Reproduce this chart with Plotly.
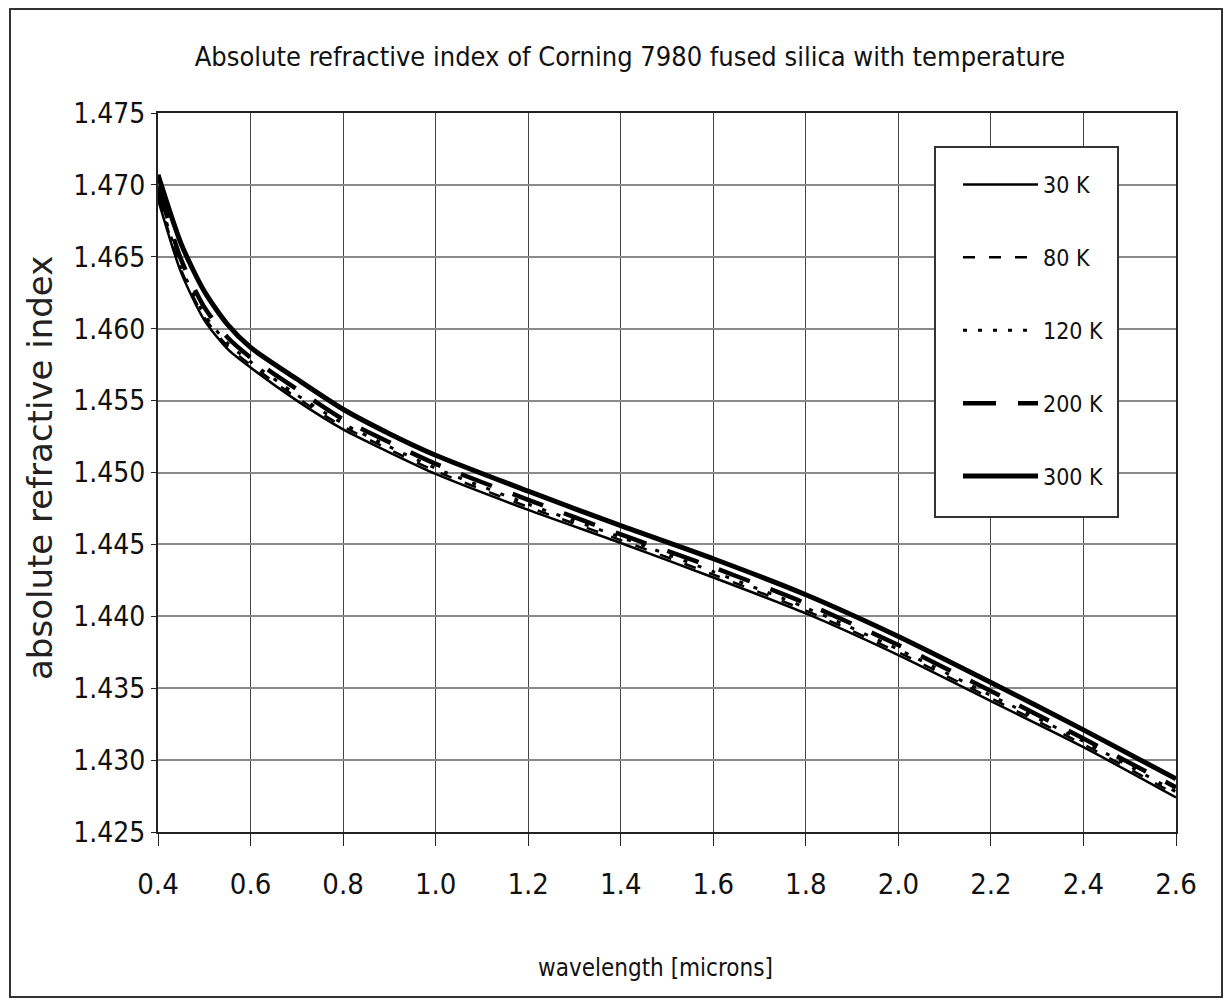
import plotly.graph_objects as go

wavelength = [0.4, 0.45, 0.5, 0.55, 0.6, 0.7, 0.8, 0.9, 1.0, 1.2, 1.4, 1.6, 1.8, 2.0, 2.2, 2.4, 2.6]
n_30K  = [1.4690, 1.4639, 1.4606, 1.4586, 1.4573, 1.4550, 1.4530, 1.4514, 1.4499, 1.4474, 1.4451, 1.4427, 1.4402, 1.4373, 1.4341, 1.4309, 1.4274]
n_80K  = [1.4692, 1.4641, 1.4608, 1.4588, 1.4575, 1.4552, 1.4532, 1.4516, 1.4501, 1.4476, 1.4453, 1.4429, 1.4404, 1.4375, 1.4343, 1.4311, 1.4276]
n_120K = [1.4694, 1.4643, 1.4610, 1.4590, 1.4577, 1.4554, 1.4534, 1.4518, 1.4503, 1.4478, 1.4455, 1.4431, 1.4406, 1.4377, 1.4345, 1.4313, 1.4278]
n_200K = [1.4699, 1.4648, 1.4615, 1.4594, 1.4580, 1.4558, 1.4537, 1.4521, 1.4506, 1.4481, 1.4457, 1.4434, 1.4409, 1.4380, 1.4348, 1.4315, 1.4281]
n_300K = [1.4707, 1.4659, 1.4626, 1.4603, 1.4587, 1.4565, 1.4544, 1.4527, 1.4512, 1.4487, 1.4463, 1.4440, 1.4415, 1.4386, 1.4354, 1.4321, 1.4287]

series_names = ["30 K", "80 K", "120 K", "200 K", "300 K"]
series_values = [n_30K, n_80K, n_120K, n_200K, n_300K]
line_styles = [
    dict(width=2.5, dash="solid"),
    dict(width=2.5, dash="12px,14px"),
    dict(width=3, dash="4px,11px"),
    dict(width=4.5, dash="33px,22px"),
    dict(width=5, dash="solid"),
]

NARROW = "DejaVu Sans Condensed, Liberation Sans Narrow, sans-serif"

fig = go.Figure()
for i, (name, vals, st) in enumerate(zip(series_names, series_values, line_styles)):
    fig.add_trace(go.Scatter(
        x=wavelength, y=vals, mode="lines", name=name,
        line=dict(color="black", shape="spline", smoothing=0.7, **st),
        legendgroup=f"g{i}",
    ))

fig.update_layout(
    width=1229, height=1001,
    margin=dict(l=158, r=53, t=113, b=169),
    paper_bgcolor="white", plot_bgcolor="white",
    font=dict(family=NARROW, color="#111"),
    title=dict(text="Absolute refractive index of Corning 7980 fused silica with temperature",
               x=630/1229, xanchor="center", y=1-57/1001, yanchor="middle",
               font=dict(family=NARROW, size=27, color="#111")),
    showlegend=True,
    legend=dict(x=(958-158)/1018, y=(832-163)/719, xanchor="left", yanchor="top",
                bgcolor="rgba(0,0,0,0)", borderwidth=0,
                font=dict(family=NARROW, size=23, color="#111"),
                itemwidth=75, tracegroupgap=40),
)

fig.update_xaxes(
    range=[0.4, 2.6], dtick=0.2, tick0=0.4, tickformat=".1f",
    showgrid=True, gridcolor="#444", gridwidth=1,
    showline=True, linecolor="#222", linewidth=2, mirror=True,
    ticks="outside", ticklen=12, tickcolor="#222",
    ticklabelstandoff=13,
    tickfont=dict(family=NARROW, size=29, color="#111"),
    zeroline=False,
)
fig.update_yaxes(
    range=[1.425, 1.475], dtick=0.005, tick0=1.425, tickformat=".3f",
    showgrid=True, gridcolor="#8a8a8a", gridwidth=2,
    showline=True, linecolor="#222", linewidth=2, mirror=True,
    ticks="outside", ticklen=5, tickcolor="#222",
    tickfont=dict(family=NARROW, size=28, color="#111"),
    zeroline=False,
)

fig.add_annotation(text="wavelength [microns]", xref="paper", yref="paper",
                   x=(655-158)/1018, y=(832-968)/719, showarrow=False,
                   xanchor="center", yanchor="middle",
                   font=dict(family=NARROW, size=24, color="#111"))
fig.add_annotation(text="absolute refractive index", xref="paper", yref="paper",
                   x=(40-158)/1018, y=(832-468)/719, showarrow=False, textangle=-90,
                   xanchor="center", yanchor="middle",
                   font=dict(family="DejaVu Sans, sans-serif", size=34, color="#222"))

# legend box
fig.add_shape(type="rect", xref="paper", yref="paper",
              x0=(935-158)/1018, x1=(1118-158)/1018,
              y0=(832-517)/719, y1=(832-147)/719,
              line=dict(color="#333", width=2), fillcolor="white", layer="above")

# outer chart border
fig.add_shape(type="rect", xref="paper", yref="paper",
              x0=(10-158)/1018, x1=(1222-158)/1018,
              y0=(832-997)/719, y1=(832-9)/719,
              line=dict(color="#333", width=2), fillcolor="rgba(0,0,0,0)", layer="below")

fig.write_html("out.html")
